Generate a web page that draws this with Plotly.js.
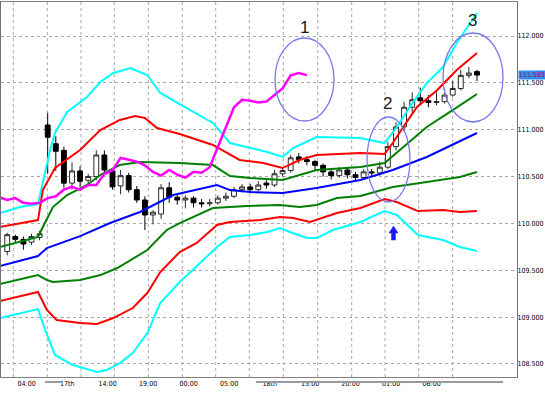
<!DOCTYPE html>
<html><head><meta charset="utf-8">
<script src="https://cdn.plot.ly/plotly-3.0.1.min.js"></script>
<style>html,body{margin:0;padding:0;background:#fff;}#chart{width:545px;height:393px;}</style>
</head><body><div id="chart"></div>
<script>
// ---------- DATA ----------
const xLabels = ['04:00','17th','14:00','19:00','00:00','05:00','18th','15:00','20:00','01:00','06:00'];
const xLabelBars = [2.4, 7.4, 12.4, 17.4, 22.4, 27.4, 32.4, 37.4, 42.4, 47.4, 52.4];
const yTicks = [108.5, 109.0, 109.5, 110.0, 110.5, 111.0, 111.5, 112.0];
const lastPrice = 111.583;

const bars  = [0,1,2,3,4,5,6,7,8,9,10,11,12,13,14,15,16,17,18,19,20,21,22,23,24,25,26,27,28,29,30,31,32,33,34,35,36,37,38,39,40,41,42,43,44,45,46,47,48,49,50,51,52,53,54,55,56,57,58];
const open  = [109.70,109.86,109.83,109.80,109.85,111.05,110.85,110.78,110.43,110.56,110.46,110.50,110.73,110.56,110.40,110.51,110.36,110.25,110.09,110.10,110.38,110.28,110.25,110.27,110.22,110.21,110.22,110.27,110.29,110.36,110.39,110.36,110.43,110.41,110.53,110.565,110.71,110.68,110.66,110.62,110.55,110.51,110.57,110.52,110.49,110.55,110.54,110.60,110.82,111.03,111.24,111.34,111.31,111.29,111.30,111.37,111.44,111.58,111.62];
const high  = [109.90,109.88,109.86,109.89,109.92,111.18,110.93,110.82,110.65,110.61,110.53,110.78,110.78,110.59,110.57,110.54,110.40,110.29,110.14,110.42,110.44,110.31,110.30,110.29,110.26,110.26,110.30,110.33,110.39,110.42,110.42,110.45,110.46,110.57,110.60,110.73,110.75,110.72,110.68,110.64,110.58,110.60,110.60,110.55,110.58,110.58,110.66,110.87,111.08,111.30,111.40,111.45,111.37,111.40,111.44,111.52,111.64,111.67,111.64];
const low   = [109.66,109.80,109.72,109.77,109.82,110.53,110.56,110.38,110.36,110.39,110.42,110.46,110.53,110.36,110.31,110.33,110.22,109.93,109.99,110.05,110.22,110.20,110.16,110.17,110.17,110.18,110.20,110.24,110.27,110.33,110.32,110.34,110.37,110.39,110.50,110.54,110.64,110.62,110.56,110.50,110.47,110.49,110.48,110.45,110.47,110.50,110.51,110.58,110.78,110.98,111.18,111.26,111.24,111.26,111.28,111.35,111.42,111.55,111.52];
const close = [109.88,109.83,109.78,109.86,109.89,110.92,110.77,110.43,110.56,110.45,110.50,110.73,110.57,110.39,110.51,110.36,110.25,110.09,110.12,110.38,110.28,110.25,110.27,110.22,110.21,110.22,110.27,110.29,110.36,110.39,110.36,110.41,110.41,110.53,110.565,110.70,110.68,110.66,110.62,110.55,110.51,110.57,110.52,110.49,110.55,110.54,110.60,110.82,111.03,111.24,111.32,111.31,111.29,111.30,111.37,111.44,111.58,111.605,111.583];
const chikouShift = 21;

// Bollinger middle (blue)
const midX = [-0.9,1.95,3.8,4.9,9.0,12.7,16.4,20.5,25.9,27.5,30.0,34.0,38.2,43.6,47.6,51.8,55.5,58];
const midV = [109.545,109.609,109.652,109.737,109.865,110.004,110.122,110.303,110.410,110.356,110.335,110.324,110.378,110.463,110.570,110.709,110.858,110.965];
// +1 sigma (green)
const up1X = [-0.9,3.8,4.4,5.65,7.4,9.85,11.5,13.9,16.4,21.3,25.4,27.5,30.0,34.0,38.2,43.6,46.6,48.5,51.8,55.0,58];
const up1V = [109.748,109.855,109.962,110.175,110.303,110.410,110.517,110.623,110.655,110.645,110.623,110.506,110.485,110.463,110.570,110.602,110.645,110.783,111.029,111.210,111.381];
// -1 sigma (green)
const dn1X = [-0.9,3.8,4.9,5.65,9.0,11.5,13.6,17.3,19.7,21.3,25.4,29.6,33.7,36.1,38.2,40.7,43.6,47.6,51.8,55.9,58];
const dn1V = [109.353,109.449,109.396,109.375,109.396,109.449,109.524,109.716,109.930,110.004,110.164,110.186,110.196,110.175,110.196,110.271,110.292,110.388,110.442,110.495,110.549];
// +2 sigma (red)
const up2X = [-0.9,3.8,4.4,5.9,9.0,11.5,13.9,15.8,17.0,18.5,21.3,25.4,28.7,31.6,34.0,36.1,38.2,43.6,46.6,47.6,48.9,50.6,53.1,55.5,58];
const up2V = [109.962,110.036,110.356,110.591,110.783,110.997,111.104,111.146,111.125,111.018,110.954,110.837,110.677,110.645,110.591,110.677,110.730,110.751,110.741,110.858,111.029,111.242,111.424,111.637,111.819];
// -2 sigma (red)
const dn2X = [-0.9,3.8,4.9,6.1,9.0,11.1,13.1,15.5,17.3,18.9,21.3,23.4,25.9,27.5,31.2,33.7,35.3,37.4,40.7,43.6,46.6,48.1,50.7,53.8,55.9,58];
const dn2V = [109.172,109.268,109.076,108.969,108.937,108.926,108.990,109.097,109.257,109.481,109.695,109.791,109.983,110.015,110.036,110.068,110.058,110.015,110.111,110.164,110.260,110.228,110.132,110.143,110.122,110.132];
// +3 sigma (cyan)
const up3X = [-0.9,1.6,3.8,4.4,5.3,5.9,7.4,9.85,11.5,13.1,15.2,17.3,18.9,21.3,25.4,27.5,30.0,32.1,34.0,35.3,38.2,43.6,46.6,48.1,49.7,51.8,53.8,55.5,58];
const up3V = [110.111,110.175,110.207,110.431,110.783,110.965,111.189,111.349,111.509,111.605,111.658,111.584,111.392,111.274,111.072,110.858,110.805,110.762,110.709,110.805,110.922,110.911,110.858,111.029,111.242,111.498,111.669,111.925,112.245];
// -3 sigma (cyan)
const dn3X = [-0.9,3.8,4.7,5.9,8.1,11.1,12.3,13.9,15.5,17.3,18.9,21.3,22.9,25.9,27.5,30.0,32.1,33.7,34.9,37.0,38.2,40.2,43.6,46.6,48.1,50.7,53.8,55.9,58];
const dn3V = [108.990,109.086,108.862,108.596,108.489,108.414,108.436,108.510,108.617,108.830,109.150,109.375,109.503,109.748,109.855,109.876,109.908,109.951,109.908,109.844,109.844,109.930,110.015,110.132,110.090,109.876,109.823,109.748,109.705];

// ---------- LAYOUT GEOMETRY ----------
const W = 545, H = 393;
const M = {l:1, r:28, t:2, b:16};
const PW = W - M.l - M.r, PH = H - M.t - M.b;
const XR = [-0.765, 62.94], YR = [108.361, 112.363];
const fx = px => XR[0] + (px - M.l) / PW * (XR[1] - XR[0]);
const fy = py => YR[1] - (py - M.t) / PH * (YR[1] - YR[0]);
const gridPx = [13.3,47.3,81,114.3,148.3,182.3,215.7,249.3,283.3,317.7,351.7,385,418.7,452.7];

// ---------- TRACES ----------
const chX = [], chY = [];
for (let i = 0; i < bars.length; i++) {
  if (bars[i] >= chikouShift - 1) { chX.push(bars[i] - chikouShift); chY.push(close[i]); }
}
const line = (x, y, color, w) => ({type:'scatter', mode:'lines', x:x, y:y, line:{color:color, width:w}, hoverinfo:'skip'});
const traces = [
  {type:'candlestick', x:bars, open:open, high:high, low:low, close:close,
   increasing:{line:{color:'#2a2a2a', width:1}, fillcolor:'#ffffff'},
   decreasing:{line:{color:'#000000', width:1}, fillcolor:'#000000'},
   whiskerwidth:0, hoverinfo:'skip'},
  line(up3X, up3V, '#00ffff', 2),
  line(dn3X, dn3V, '#00ffff', 2),
  line(up2X, up2V, '#ff0000', 2),
  line(dn2X, dn2V, '#ff0000', 2),
  line(up1X, up1V, '#008000', 2),
  line(dn1X, dn1V, '#008000', 2),
  line(midX, midV, '#0000ff', 2),
  line(chX, chY, '#ff00ff', 2.5)
];

// ---------- SHAPES ----------
const shapes = [];
gridPx.forEach(p => shapes.push({type:'line', xref:'x', yref:'paper', x0:fx(p), x1:fx(p), y0:0, y1:1,
  line:{color:'#a8a8a8', width:1, dash:'dot'}, layer:'below'}));
const ell = (x0,y0,x1,y1) => ({type:'circle', xref:'x', yref:'y', x0:fx(x0), x1:fx(x1), y0:fy(y1), y1:fy(y0),
  line:{color:'#7878f0', width:1.3}});
shapes.push(ell(275, 38, 334, 121));
shapes.push(ell(367, 117, 410, 202));
shapes.push(ell(443, 33, 503, 122));
// blue arrow
const ap = [[393.5,226],[398,233],[395.5,233],[395.5,240],[391.5,240],[391.5,233],[389,233]];
shapes.push({type:'path', xref:'x', yref:'y', path:'M' + ap.map(p => fx(p[0]) + ',' + fy(p[1])).join(' L') + ' Z',
  fillcolor:'#1a1aff', line:{color:'#1a1aff', width:0.5}});
// grey scroll bars under the axis
const pyP = py => (H - M.b - py) / PH;
shapes.push({type:'rect', xref:'x', yref:'paper', x0:fx(45), x1:fx(61), y0:pyP(383), y1:pyP(381),
  fillcolor:'#9a9a9a', line:{width:0}});
shapes.push({type:'rect', xref:'x', yref:'paper', x0:fx(256), x1:fx(503), y0:pyP(383), y1:pyP(381),
  fillcolor:'#9a9a9a', line:{width:0}});

// ---------- ANNOTATIONS ----------
const smallFam = 'Liberation Sans Narrow, Arial Narrow, DejaVu Sans Condensed, Liberation Sans, sans-serif';
const numFont = {family:'Liberation Sans, Arial, sans-serif', size:17, color:'#1a1a1a'};
const annotations = [
  {x:fx(304), y:fy(27), xref:'x', yref:'y', text:'1', showarrow:false, font:numFont},
  {x:fx(387), y:fy(103), xref:'x', yref:'y', text:'2', showarrow:false, font:numFont},
  {x:fx(472), y:fy(20), xref:'x', yref:'y', text:'3', showarrow:false, font:numFont},
  {x:1, xref:'paper', xanchor:'left', xshift:1, y:lastPrice, yref:'y', text:lastPrice.toFixed(3), showarrow:false,
   bgcolor:'#2b8ef0', borderpad:0, font:{family:smallFam, size:7, color:'#d0004a'}}
];

const tickFont = {family:smallFam, size:7, color:'#000'};
const layout = {
  width:W, height:H, margin:M, paper_bgcolor:'#ffffff', plot_bgcolor:'#ffffff',
  showlegend:false, hovermode:false, boxgap:0.14,
  xaxis:{type:'linear', range:XR, rangeslider:{visible:false}, showgrid:false, zeroline:false,
    tickmode:'array', tickvals:xLabelBars, ticktext:xLabels, ticks:'', tickfont:tickFont,
    showline:true, mirror:true, linecolor:'#808080', linewidth:1, fixedrange:true},
  yaxis:{range:YR, side:'right', tickmode:'array', tickvals:yTicks, tickformat:'.3f', ticks:'',
    ticklabelstandoff:-2,
    tickfont:tickFont, showgrid:true, gridcolor:'#a8a8a8', griddash:'dot', gridwidth:1, zeroline:false,
    showline:true, mirror:true, linecolor:'#707070', linewidth:1, fixedrange:true},
  shapes:shapes, annotations:annotations
};
Plotly.newPlot('chart', traces, layout, {staticPlot:true, displayModeBar:false});
</script></body></html>
